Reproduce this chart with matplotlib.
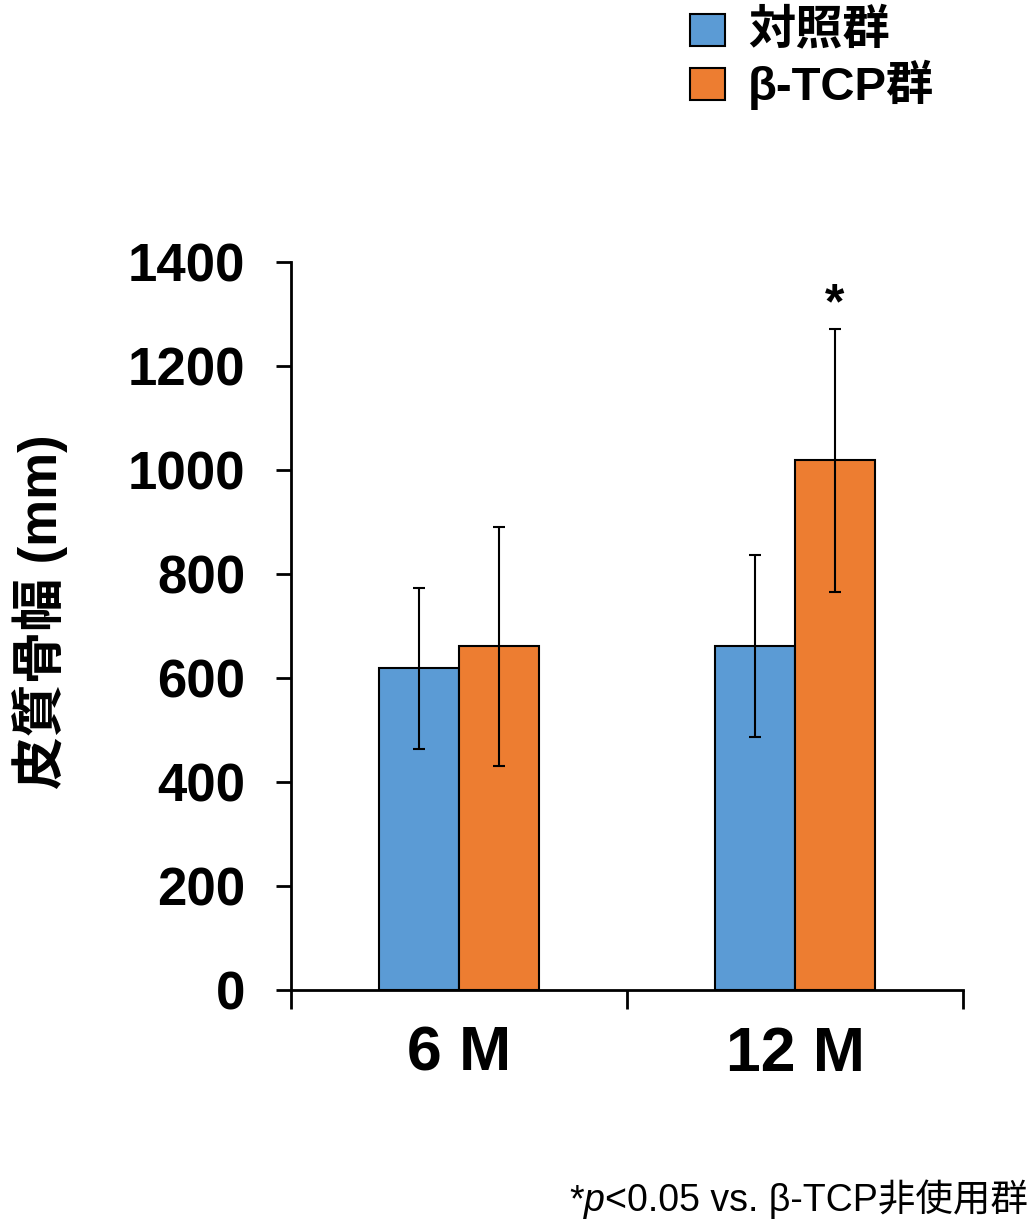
import matplotlib
matplotlib.use("Agg")
import matplotlib.pyplot as plt
from matplotlib.patches import Rectangle

# Data
categories = ["6 M", "12 M"]
groups = ["対照群", "β-TCP群"]
control_mean = [619, 661]
control_sd = [155, 175]
tcp_mean = [661, 1019]
tcp_sd = [230, 253]
yticks = [0, 200, 400, 600, 800, 1000, 1200, 1400]

colors = ["#5B9BD5", "#ED7D31"]
fam = ["Liberation Sans", "Noto Sans CJK JP"]

W, H = 1034, 1223
fig = plt.figure(figsize=(W / 100, H / 100), dpi=100)
ax = fig.add_axes([291 / W, 1 - 990 / H, (963 - 291) / W, (990 - 262) / H])

width = 0.238
x = list(range(len(categories)))
err_kw = dict(ecolor="black", elinewidth=1.5, capsize=4.5, capthick=1.5)
ax.bar([i - width / 2 for i in x], control_mean, width, yerr=control_sd,
       color=colors[0], edgecolor="black", linewidth=1.5, error_kw=err_kw, zorder=2)
ax.bar([i + width / 2 for i in x], tcp_mean, width, yerr=tcp_sd,
       color=colors[1], edgecolor="black", linewidth=1.5, error_kw=err_kw, zorder=2)

ax.set_xlim(-0.5, len(categories) - 0.5)
ax.set_ylim(0, 1400)
for s in ["top", "right"]:
    ax.spines[s].set_visible(False)
ax.spines["left"].set_linewidth(2)
ax.spines["bottom"].set_linewidth(2)

ax.set_yticks(yticks)
ax.set_yticklabels([str(v) for v in yticks], fontfamily=fam, fontweight="bold", fontsize=38)
ax.tick_params(axis="y", length=11, width=2, pad=22)

# category boundaries as tick marks, category names as minor labels
ax.set_xticks([-0.5 + i for i in range(len(categories) + 1)])
ax.set_xticklabels([])
ax.tick_params(axis="x", which="major", length=14, width=2)
ax.set_xticks(x, minor=True)
ax.set_xticklabels(categories, minor=True, fontfamily=fam, fontweight="bold", fontsize=45)
ax.tick_params(axis="x", which="minor", length=0, pad=25)

# significance marker
ax.text(1 + width / 2, tcp_mean[1] + tcp_sd[1], "*", ha="center", va="bottom",
        fontfamily=fam, fontweight="bold", fontsize=36)

# y label
fig.text(40 / W, 1 - 612 / H, "皮質骨幅 (mm)", rotation=90, ha="center", va="center",
         fontfamily=fam, fontweight="bold", fontsize=38)

# legend
for k, (lab, c) in enumerate(zip(groups, colors)):
    y0 = 14 + k * 54
    fig.add_artist(Rectangle((690 / W, 1 - (y0 + 32) / H), 35 / W, 32 / H,
                             transform=fig.transFigure, facecolor=c,
                             edgecolor="black", linewidth=1.5))
    fig.text(748 / W, 1 - (y0 + 17) / H, lab, ha="left", va="center",
             fontfamily=fam, fontweight="bold", fontsize=34)

# footnote, assembled right-to-left so the italic p sits between plain pieces
fig.canvas.draw()
renderer = fig.canvas.get_renderer()
inv = fig.transFigure.inverted()
base_y = 1 - 1211 / H
xr = 1028 / W
pieces = [("<0.05 vs. β-TCP非使用群", "normal"), ("p", "italic"), ("*", "normal")]
for txt, style in pieces:
    t = fig.text(xr, base_y, txt, ha="right", va="baseline", fontfamily=fam,
                 fontstyle=style, fontsize=27)
    bb = t.get_window_extent(renderer)
    xr = inv.transform((bb.x0, bb.y0))[0]

fig.savefig("out.png", dpi=100)
